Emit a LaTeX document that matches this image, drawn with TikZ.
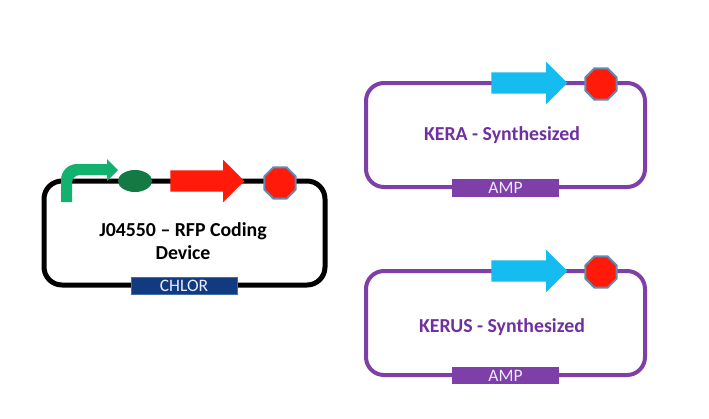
\documentclass[tikz,border=0pt]{standalone}
\usepackage{fontspec}
\setmainfont{Carlito}
\usetikzlibrary{shapes.geometric,shapes.arrows}
\definecolor{loopblack}{HTML}{000000}
\definecolor{purpleline}{HTML}{7F3FA9}
\definecolor{purpletext}{HTML}{7030A0}
\definecolor{navybox}{HTML}{123A80}
\definecolor{boxedge}{HTML}{3F6FA8}
\definecolor{greenarrow}{HTML}{12B26E}
\definecolor{rbsgreen}{HTML}{127A42}
\definecolor{cdsred}{HTML}{FF1A0A}
\definecolor{cyanarrow}{HTML}{14BCF0}
\definecolor{octedge}{HTML}{5F8DB5}
\newcommand{\shaftrule}{\rule{0pt}{21pt}}
\tikzset{
  plasmid/.style={draw,rounded corners=18pt,fill=none,inner sep=0pt,outer sep=0pt},
  marker/.style={inner sep=0pt,outer sep=0pt,text=white!92!blue,font=\fontsize{17.5}{17.5}\selectfont,anchor=center},
  cds/.style={single arrow,single arrow head extend=10.5pt,inner sep=0pt,outer sep=0pt,anchor=center},
  stopsign/.style={regular polygon,regular polygon sides=8,draw=octedge,line width=2pt,fill=cdsred,minimum size=34pt,inner sep=0pt,outer sep=0pt},
  title/.style={font=\fontsize{19.8}{23}\selectfont\bfseries,align=center,inner sep=0pt},
}
\begin{document}
\begin{tikzpicture}[x=1pt,y=-1pt]
\useasboundingbox[fill=white] (0,0) rectangle (709,418);
% left plasmid
\node[plasmid,line width=5pt,draw=loopblack,minimum width=281pt,minimum height=104pt] (loopa) at (184.5,233) {};
\node[marker,fill=navybox,draw=boxedge,line width=.6pt,minimum width=106pt,minimum height=17pt] (chlor) at (184,285.5) {\raisebox{-2pt}{CHLOR}};
\path[fill=greenarrow] (61,202) -- (61,180) arc[start angle=180,end angle=90,radius=16pt] -- (107,164) -- (107,159) -- (118,170) -- (107,181) -- (107,175) -- (80,175) arc[start angle=90,end angle=180,radius=8pt] -- (72,202) -- cycle;
\node[ellipse,fill=rbsgreen,minimum width=34pt,minimum height=22pt,inner sep=0pt] (rbs) at (135,181) {};
\node[cds,fill=cdsred,minimum height=74pt] (rfp) at (202,181) {\shaftrule};
\node[stopsign] (terma) at (280,183) {};
\node[title,text=black] (ttla) at (183,241) {J04550 – RFP Coding\\Device};
% KERA plasmid
\node[plasmid,line width=4pt,draw=purpleline,minimum width=279pt,minimum height=104pt] (loopb) at (505.5,135) {};
\node[marker,fill=purpleline,minimum width=107pt,minimum height=18pt] (ampb) at (505.5,188) {\raisebox{-2pt}{AMP}};
\node[cds,fill=cyanarrow,minimum height=76pt] (kera) at (524,83) {\shaftrule};
\node[stopsign] (termb) at (601,84) {};
\node[title,text=purpletext] (ttlb) at (502,135) {KERA - Synthesized};
% KERUS plasmid
\node[plasmid,line width=4pt,draw=purpleline,minimum width=279pt,minimum height=104pt] (loopc) at (505.5,323) {};
\node[marker,fill=purpleline,minimum width=107pt,minimum height=17pt] (ampc) at (505.5,375.5) {\raisebox{-2pt}{AMP}};
\node[cds,fill=cyanarrow,minimum height=76pt] (kerus) at (524,271) {\shaftrule};
\node[stopsign] (termc) at (601,272) {};
\node[title,text=purpletext] (ttlc) at (502,327) {KERUS - Synthesized};
\end{tikzpicture}
\end{document}
